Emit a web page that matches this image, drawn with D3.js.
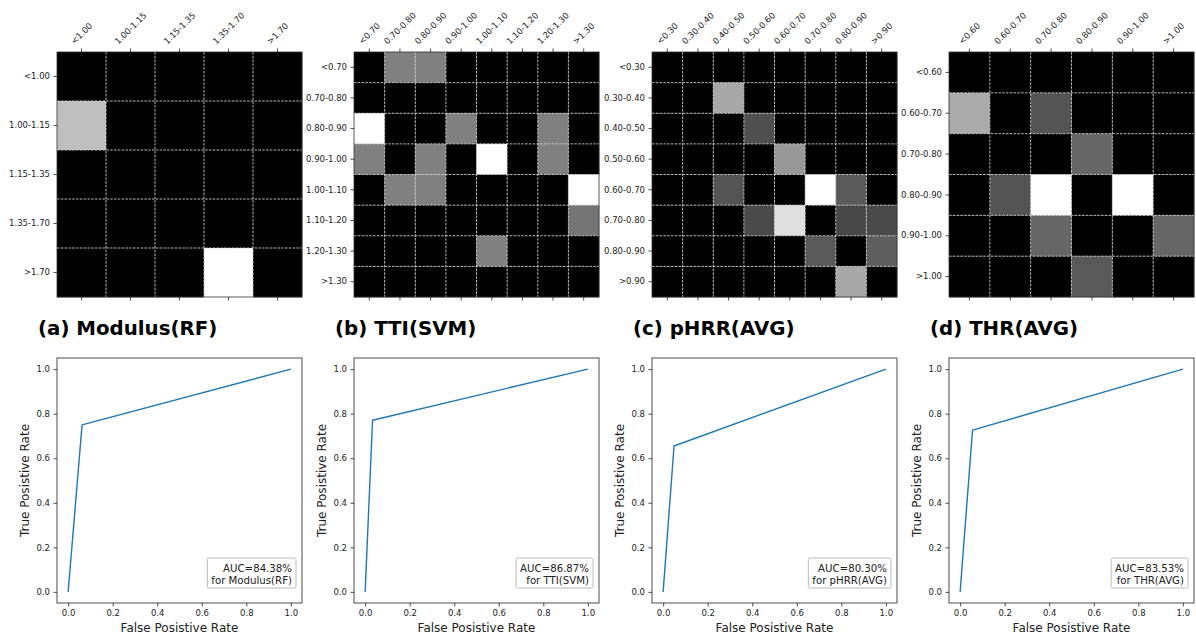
<!DOCTYPE html>
<html>
<head>
<meta charset="utf-8">
<script src="https://cdn.jsdelivr.net/npm/d3@7"></script>
<style>
  body { margin: 0; background: #fff; }
  svg { display: block; font-family: "DejaVu Sans", sans-serif; }
</style>
</head>
<body>
<svg id="chart" width="1196" height="637"></svg>
<script>
// Panel titles
const panelTitles = ["(a) Modulus(RF)", "(b) TTI(SVM)", "(c) pHRR(AVG)", "(d) THR(AVG)"];

// Bin labels for each property (rows = actual, columns = predicted)
const modulusBins = ["<1.00", "1.00-1.15", "1.15-1.35", "1.35-1.70", ">1.70"];
const ttiBins = ["<0.70", "0.70-0.80", "0.80-0.90", "0.90-1.00", "1.00-1.10", "1.10-1.20", "1.20-1.30", ">1.30"];
const phrrBins = ["<0.30", "0.30-0.40", "0.40-0.50", "0.50-0.60", "0.60-0.70", "0.70-0.80", "0.80-0.90", ">0.90"];
const thrBins = ["<0.60", "0.60-0.70", "0.70-0.80", "0.80-0.90", "0.90-1.00", ">1.00"];

// Confusion matrices as grey intensities (0 = black, 1 = white)
const modulusMatrix = [
  [0, 0, 0, 0, 0],
  [0.75, 0, 0, 0, 0],
  [0, 0, 0, 0, 0],
  [0, 0, 0, 0, 0],
  [0, 0, 0, 1, 0]
];
const ttiMatrix = [
  [0, 0.5, 0.5, 0, 0, 0, 0, 0],
  [0, 0, 0, 0, 0, 0, 0, 0],
  [1, 0, 0, 0.5, 0, 0, 0.5, 0],
  [0.5, 0, 0.5, 0, 1, 0, 0.5, 0],
  [0, 0.5, 0.5, 0, 0, 0, 0, 1],
  [0, 0, 0, 0, 0, 0, 0, 0.46],
  [0, 0, 0, 0, 0.5, 0, 0, 0],
  [0, 0, 0, 0, 0, 0, 0, 0]
];
const phrrMatrix = [
  [0, 0, 0, 0, 0, 0, 0, 0],
  [0, 0, 0.66, 0, 0, 0, 0, 0],
  [0, 0, 0, 0.31, 0, 0, 0, 0],
  [0, 0, 0, 0, 0.6, 0, 0, 0],
  [0, 0, 0.33, 0, 0, 1, 0.35, 0],
  [0, 0, 0, 0.29, 0.88, 0, 0.28, 0.29],
  [0, 0, 0, 0, 0, 0.35, 0, 0.37],
  [0, 0, 0, 0, 0, 0, 0.66, 0]
];
const thrMatrix = [
  [0, 0, 0, 0, 0, 0],
  [0.67, 0, 0.33, 0, 0, 0],
  [0, 0, 0, 0.4, 0, 0],
  [0, 0.33, 1, 0, 1, 0],
  [0, 0, 0.4, 0, 0, 0.4],
  [0, 0, 0, 0.35, 0, 0]
];

// ROC curves: false / true positive rates
const rocFpr = [[0, 0.0625, 1], [0, 0.0333, 1], [0, 0.049, 1], [0, 0.0556, 1]];
const rocTpr = [[0, 0.75, 1], [0, 0.7707, 1], [0, 0.655, 1], [0, 0.7262, 1]];
const aucLabels = ["AUC=84.38%", "AUC=86.87%", "AUC=80.30%", "AUC=83.53%"];
const modelLabels = ["for Modulus(RF)", "for TTI(SVM)", "for pHRR(AVG)", "for THR(AVG)"];
const rocTicks = [0, 0.2, 0.4, 0.6, 0.8, 1.0];

const binSets = [modulusBins, ttiBins, phrrBins, thrBins];
const matrices = [modulusMatrix, ttiMatrix, phrrMatrix, thrMatrix];

// Layout
const panelLeft = [57, 354, 652, 949];
const panelSize = 245;
const heatTop = 52;
const rocTop = 358;
const tickFont = 8.5;
const textColor = "#222";

const svg = d3.select("#chart");
svg.append("rect").attr("width", 1196).attr("height", 637).attr("fill", "#fff");

const grey = d3.scaleLinear().domain([0, 1]).range(["#000", "#fff"]);

function styleAxis(g) {
  g.select(".domain").remove();
  g.selectAll(".tick line").attr("stroke", textColor).attr("stroke-width", 0.8);
  g.selectAll(".tick text").attr("fill", textColor).attr("font-size", tickFont)
    .attr("font-family", "DejaVu Sans, sans-serif");
}

panelLeft.forEach((left, p) => {
  const bins = binSets[p];
  const matrix = matrices[p];

  // ---------- Confusion-matrix heatmap ----------
  const x = d3.scaleBand().domain(bins).range([left, left + panelSize]);
  const y = d3.scaleBand().domain(bins).range([heatTop, heatTop + panelSize]);
  const hm = svg.append("g");

  const cells = [];
  matrix.forEach((row, i) => row.forEach((v, j) => cells.push({ r: bins[i], c: bins[j], v })));
  hm.selectAll("rect.cell").data(cells).join("rect")
    .attr("class", "cell")
    .attr("x", d => x(d.c)).attr("y", d => y(d.r))
    .attr("width", x.bandwidth() + 0.3).attr("height", y.bandwidth() + 0.3)
    .attr("fill", d => grey(d.v));

  // dashed grid on cell boundaries
  const bounds = bins.slice(1);
  hm.selectAll("line.vgrid").data(bounds).join("line")
    .attr("x1", d => x(d)).attr("x2", d => x(d))
    .attr("y1", heatTop).attr("y2", heatTop + panelSize)
    .attr("stroke", "#cfcfcf").attr("stroke-width", 0.9).attr("stroke-dasharray", "2.5,1.3");
  hm.selectAll("line.hgrid").data(bounds).join("line")
    .attr("y1", d => y(d)).attr("y2", d => y(d))
    .attr("x1", left).attr("x2", left + panelSize)
    .attr("stroke", "#cfcfcf").attr("stroke-width", 0.9).attr("stroke-dasharray", "2.5,1.3");

  hm.append("rect").attr("x", left).attr("y", heatTop)
    .attr("width", panelSize).attr("height", panelSize)
    .attr("fill", "none").attr("stroke", "#333").attr("stroke-width", 0.8);

  // top axis with rotated labels
  const topAx = hm.append("g").attr("transform", `translate(0,${heatTop})`)
    .call(d3.axisTop(x).tickSize(3.5).tickPadding(3.5));
  styleAxis(topAx);
  topAx.selectAll(".tick text").each(function () {
    const t = d3.select(this);
    const L = this.getComputedTextLength();
    const h = tickFont * 0.75;
    const cy = -7 - (L + h) * 0.3536;
    t.attr("y", 0).attr("dy", "0.35em").attr("text-anchor", "middle")
      .attr("transform", `translate(0,${cy}) rotate(-45)`);
  });

  // bottom ticks without labels
  const botAx = hm.append("g").attr("transform", `translate(0,${heatTop + panelSize})`)
    .call(d3.axisBottom(x).tickSize(3.5).tickFormat(""));
  styleAxis(botAx);

  // left axis
  const leftAx = hm.append("g").attr("transform", `translate(${left},0)`)
    .call(d3.axisLeft(y).tickSize(3.5).tickPadding(3.5));
  styleAxis(leftAx);

  // title
  svg.append("text").attr("x", left - 19).attr("y", 335)
    .attr("font-size", 19.8).attr("font-weight", "bold").attr("fill", "#000")
    .text(panelTitles[p]);

  // ---------- ROC curve ----------
  const rx = d3.scaleLinear().domain([-0.05, 1.05]).range([left, left + panelSize]);
  const ry = d3.scaleLinear().domain([-0.05, 1.05]).range([rocTop + panelSize, rocTop]);
  const roc = svg.append("g");

  const pts = rocFpr[p].map((f, k) => [f, rocTpr[p][k]]);
  roc.append("path").datum(pts)
    .attr("d", d3.line().x(d => rx(d[0])).y(d => ry(d[1])))
    .attr("fill", "none").attr("stroke", "#1f77b4").attr("stroke-width", 1.4)
    .attr("stroke-linejoin", "round");

  roc.append("rect").attr("x", left).attr("y", rocTop)
    .attr("width", panelSize).attr("height", panelSize)
    .attr("fill", "none").attr("stroke", "#222").attr("stroke-width", 0.8);

  const xAx = roc.append("g").attr("transform", `translate(0,${rocTop + panelSize})`)
    .call(d3.axisBottom(rx).tickValues(rocTicks).tickFormat(d3.format(".1f")).tickSize(3.5).tickPadding(3.5));
  styleAxis(xAx);
  const yAx = roc.append("g").attr("transform", `translate(${left},0)`)
    .call(d3.axisLeft(ry).tickValues(rocTicks).tickFormat(d3.format(".1f")).tickSize(3.5).tickPadding(3.5));
  styleAxis(yAx);

  roc.append("text").attr("x", left + panelSize / 2).attr("y", 632)
    .attr("text-anchor", "middle").attr("font-size", 12).attr("fill", textColor)
    .text("False Posistive Rate");
  roc.append("text")
    .attr("transform", `translate(${left - 28},${rocTop + panelSize / 2}) rotate(-90)`)
    .attr("text-anchor", "middle").attr("font-size", 12).attr("fill", textColor)
    .text("True Posistive Rate");

  // AUC legend box
  const legRight = left + panelSize - 6;
  const leg = roc.append("g");
  const box = leg.append("rect");
  const l1 = leg.append("text").attr("x", legRight - 4).attr("y", 571.5)
    .attr("text-anchor", "end").attr("font-size", 10.2).attr("fill", textColor).text(aucLabels[p]);
  const l2 = leg.append("text").attr("x", legRight - 4).attr("y", 583.5)
    .attr("text-anchor", "end").attr("font-size", 10.2).attr("fill", textColor).text(modelLabels[p]);
  const w = Math.max(l1.node().getComputedTextLength(), l2.node().getComputedTextLength()) + 8;
  box.attr("x", legRight - w).attr("y", 558).attr("width", w).attr("height", 30)
    .attr("fill", "#fff").attr("stroke", "#bbb").attr("stroke-width", 1).attr("rx", 1.5);
});
</script>
</body>
</html>
